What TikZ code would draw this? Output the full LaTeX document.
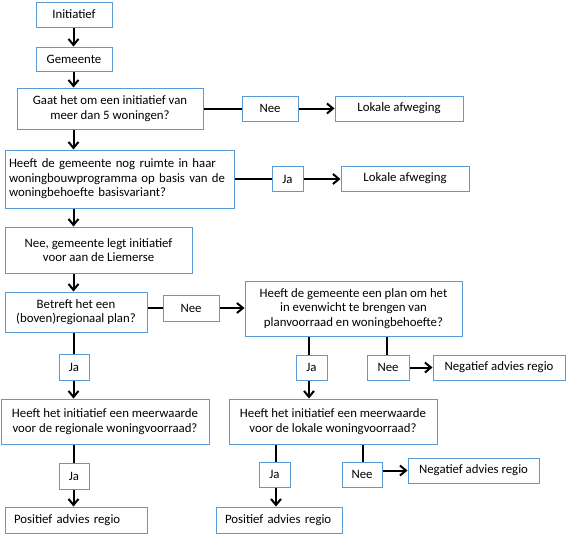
\documentclass[tikz,border=0pt]{standalone}
\usepackage{fontspec}
\setmainfont{Carlito}
\usetikzlibrary{arrows.meta}
\definecolor{boxblue}{RGB}{91,155,213}
\tikzset{
  box/.style={draw=boxblue, line width=0.75pt, fill=white, inner sep=0pt,
    align=center, font=\fontsize{9.6}{10.9}\selectfont},
  small/.style={minimum height=18.75pt},
  ln/.style={line width=1.5pt, black},
  arr/.style={ln, -{Straight Barb[length=4.5pt,width=7.5pt]}}
}
\begin{document}
\begin{tikzpicture}[x=0.75pt,y=-0.75pt]
\useasboundingbox (0,0) rectangle (570,536);
\coordinate (col) at (73.5,0);
\coordinate (colP) at (309,0);
\coordinate (colN) at (387,0);
\coordinate (colL) at (276,0);
\coordinate (colLN) at (363,0);
% nodes
\node[box, small, minimum width=57pt] (init) at (74,14.5) {Initiatief};
\node[box, minimum width=57pt, minimum height=18pt] (gem) at (74,59) {Gemeente};
\node[box, minimum width=139.5pt, minimum height=30.75pt] (gaat) at (110,108.5) {Gaat het om een initiatief van\\meer dan 5 woningen?};
\node[box, small, minimum width=42pt] (nee1) at (270,108.5) {Nee};
\node[box, small, minimum width=96pt] (lok1) at (399,108.5) {Lokale afweging};
\node[box, minimum height=43.5pt, text width=165.75pt, inner xsep=3pt, align=left] (heeft1) at (119.5,179)
  {Heeft de gemeente nog ruimte in haar\\woningbouwprogramma op basis van de\\woningbehoefte basisvariant?};
\node[box, small, minimum width=23.25pt] (ja1) at (287.5,179) {Ja};
\node[box, small, minimum width=96pt] (lok2) at (405,178.5) {Lokale afweging};
\node[box, minimum width=140.25pt, minimum height=34.5pt] (neegem) at (98.5,250) {Nee, gemeente legt initiatief\\voor aan de Liemerse};
\node[box, minimum width=106.5pt, minimum height=30pt] (betreft) at (76,312) {Betreft het een\\(boven)regionaal plan?};
\node[box, minimum width=42pt, minimum height=19.5pt] (nee2) at (191,308) {Nee};
\node[box, minimum width=162.75pt, minimum height=41.25pt] (plan) at (353.5,308.5) {Heeft de gemeente een plan om het\\in evenwicht te brengen van\\planvoorraad en woningbehoefte?};
\node[box, minimum width=22.5pt, minimum height=19.5pt] (jaB) at (74,367) {Ja};
\node[box, small, minimum width=23.25pt] (jaP) at (311.5,367.5) {Ja};
\node[box, small, minimum width=31.5pt] (neeP) at (388,367.5) {Nee};
\node[box, small, minimum width=99pt] (neg1) at (499,367.5) {Negatief advies regio};
\node[box, minimum width=156pt, minimum height=33.75pt] (regio) at (105,421.5) {Heeft het initiatief een meerwaarde\\voor de regionale woningvoorraad?};
\node[box, minimum width=156pt, minimum height=33.75pt] (lokq) at (333,421.5) {Heeft het initiatief een meerwaarde\\voor de lokale woningvoorraad?};
\node[box, minimum width=22.5pt, minimum height=19.5pt] (jaR) at (74,476) {Ja};
\node[box, small, minimum width=23.25pt] (jaL) at (274.5,474.5) {Ja};
\node[box, small, minimum width=30pt] (neeL) at (362,474.5) {Nee};
\node[box, small, minimum width=98.25pt] (neg2) at (473.5,470.5) {Negatief advies regio};
\node[box, minimum height=19.5pt, text width=93pt, inner xsep=6.75pt, align=left] (pos1) at (76,520) {Positief advies regio};
\node[box, minimum height=19.5pt, text width=81pt, inner xsep=6.75pt, align=left] (pos2) at (279,520) {Positief advies regio};
% connectors
\draw[arr] (init.south -| col) -- (gem.north -| col);
\draw[arr] (gem.south -| col) -- (gaat.north -| col);
\draw[arr] (gaat.south -| col) -- (heeft1.north -| col);
\draw[ln] (gaat.east |- nee1) -- (nee1.west);
\draw[arr] (nee1.east) -- (lok1.west |- nee1);
\draw[ln] (heeft1.east |- ja1) -- (ja1.west);
\draw[arr] (ja1.east) -- (lok2.west |- ja1);
\draw[arr] (heeft1.south -| col) -- (neegem.north -| col);
\draw[arr] (neegem.south -| col) -- (betreft.north -| col);
\draw[ln] (betreft.east |- nee2) -- (nee2.west);
\draw[arr] (nee2.east) -- (plan.west |- nee2);
\draw[ln] (betreft.south -| col) -- (jaB.north -| col);
\draw[arr] (jaB.south -| col) -- (regio.north -| col);
\draw[ln] (plan.south -| colP) -- (jaP.north -| colP);
\draw[arr] (jaP.south -| colP) -- (lokq.north -| colP);
\draw[ln] (plan.south -| colN) -- (neeP.north -| colN);
\draw[arr] (neeP.east) -- (neg1.west |- neeP);
\draw[ln] (regio.south -| col) -- (jaR.north -| col);
\draw[arr] (jaR.south -| col) -- (pos1.north -| col);
\draw[ln] (lokq.south -| colL) -- (jaL.north -| colL);
\draw[arr] (jaL.south -| colL) -- (pos2.north -| colL);
\draw[ln] (lokq.south -| colLN) -- (neeL.north -| colLN);
\draw[arr] (neeL.east |- neg2) -- (neg2.west);
\end{tikzpicture}
\end{document}
